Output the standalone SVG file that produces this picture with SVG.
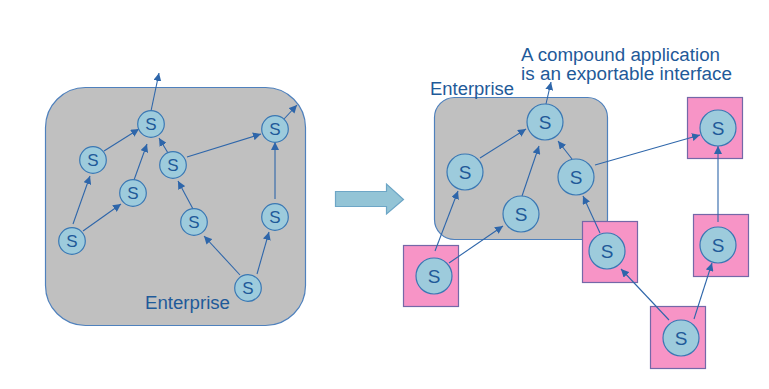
<svg xmlns="http://www.w3.org/2000/svg" width="769" height="389" viewBox="0 0 769 389">
<defs>
<style>
.ent{fill:#c0c0c0;stroke:#4f81bd;stroke-width:1.2}
.sc{fill:#9dcbdc;stroke:#3a78b4;stroke-width:1.2}
.pk{fill:#f794c6;stroke:#7468a8;stroke-width:1.2}
.st{font-family:"Liberation Sans",Arial,sans-serif;fill:#1f5a99;text-anchor:middle}
.s1{font-size:17px}
.s2{font-size:19px}
.lbl{font-family:"Liberation Sans",Arial,sans-serif;fill:#1f5a99;font-size:18px}
.cn line{stroke:#2e66aa;stroke-width:1.1;marker-end:url(#ah)}
</style>
<marker id="ah" markerUnits="userSpaceOnUse" markerWidth="9" markerHeight="8" refX="8" refY="4" orient="auto">
<path d="M0,0 L8,4 L0,8 Z" fill="#2e66aa"/>
</marker>
</defs>

<g id="left-enterprise">
<rect class="ent" x="45.5" y="87.5" width="260" height="238" rx="40"/>
<text class="lbl" x="145" y="309" textLength="85" lengthAdjust="spacingAndGlyphs">Enterprise</text>
</g>

<g id="right-enterprise">
<rect class="ent" x="434.5" y="97.5" width="173" height="142" rx="20"/>
<text class="lbl" x="430" y="95" textLength="84" lengthAdjust="spacingAndGlyphs">Enterprise</text>
</g>

<g id="caption">
<text class="lbl" x="521" y="61" textLength="199" lengthAdjust="spacingAndGlyphs">A compound application</text>
<text class="lbl" x="521" y="80" textLength="211" lengthAdjust="spacingAndGlyphs">is an exportable interface</text>
</g>

<g id="big-arrow">
<path d="M335.5,191.5 L386.5,191.5 L386.5,184 L403.5,199.5 L386.5,214 L386.5,206.5 L335.5,206.5 Z" fill="#93c4d6" stroke="#6da6c6" stroke-width="1.2"/>
</g>

<g id="pink-boxes">
<rect id="pk1" class="pk" x="403.5" y="245.5" width="55" height="61"/>
<rect id="pk2" class="pk" x="582.5" y="221.5" width="55" height="61"/>
<rect id="pk3" class="pk" x="687.5" y="97.5" width="55" height="61"/>
<rect id="pk4" class="pk" x="693.5" y="214.5" width="55" height="62"/>
<rect id="pk5" class="pk" x="650.5" y="306.5" width="55" height="62"/>
</g>

<g class="cn" id="connectors">
<line x1="151" y1="111" x2="159" y2="73"/>
<line x1="284" y1="119" x2="297" y2="105"/>
<line x1="104" y1="151" x2="139" y2="129"/>
<line x1="134" y1="180" x2="147" y2="144"/>
<line x1="73" y1="224" x2="90" y2="176"/>
<line x1="83" y1="231" x2="121" y2="204"/>
<line x1="168" y1="153" x2="159" y2="138"/>
<line x1="187" y1="157" x2="261" y2="134"/>
<line x1="193" y1="209" x2="178" y2="181"/>
<line x1="240" y1="275" x2="204" y2="236"/>
<line x1="257" y1="274" x2="269" y2="232"/>
<line x1="275" y1="199" x2="275" y2="142"/>
<line x1="546" y1="104" x2="551" y2="82"/>
<line x1="480" y1="158" x2="526" y2="129"/>
<line x1="522" y1="196" x2="539" y2="146"/>
<line x1="572" y1="159" x2="558" y2="141"/>
<line x1="595" y1="165" x2="700" y2="135"/>
<line x1="435" y1="251" x2="458" y2="191"/>
<line x1="449" y1="263" x2="503" y2="226"/>
<line x1="600" y1="233" x2="583" y2="196"/>
<line x1="669" y1="320" x2="621" y2="269"/>
<line x1="694" y1="319" x2="712" y2="263"/>
<line x1="718" y1="222" x2="718" y2="146"/>
</g>

<g id="left-services">
<g id="L1"><circle class="sc" cx="151" cy="124" r="13.3"/><text class="st s1" x="151" y="130">S</text></g>
<g id="L2"><circle class="sc" cx="93" cy="160" r="13.3"/><text class="st s1" x="93" y="166">S</text></g>
<g id="L3"><circle class="sc" cx="133" cy="193" r="13.3"/><text class="st s1" x="133" y="199">S</text></g>
<g id="L4"><circle class="sc" cx="72" cy="241" r="13.3"/><text class="st s1" x="72" y="247">S</text></g>
<g id="L5"><circle class="sc" cx="173" cy="165" r="13.3"/><text class="st s1" x="173" y="171">S</text></g>
<g id="L6"><circle class="sc" cx="275" cy="129" r="13.3"/><text class="st s1" x="275" y="135">S</text></g>
<g id="L7"><circle class="sc" cx="194" cy="222" r="13.3"/><text class="st s1" x="194" y="228">S</text></g>
<g id="L8"><circle class="sc" cx="275" cy="217" r="13.3"/><text class="st s1" x="275" y="223">S</text></g>
<g id="L9"><circle class="sc" cx="248" cy="288" r="13.3"/><text class="st s1" x="248" y="294">S</text></g>
</g>

<g id="right-services">
<g id="R1"><circle class="sc" cx="545" cy="122" r="18"/><text class="st s2" x="545" y="129">S</text></g>
<g id="R2"><circle class="sc" cx="465" cy="172" r="18"/><text class="st s2" x="465" y="179">S</text></g>
<g id="R3"><circle class="sc" cx="521" cy="214" r="18"/><text class="st s2" x="521" y="221">S</text></g>
<g id="R4"><circle class="sc" cx="576" cy="177" r="18"/><text class="st s2" x="576" y="184">S</text></g>
<g id="R5"><circle class="sc" cx="434" cy="276" r="18"/><text class="st s2" x="434" y="283">S</text></g>
<g id="R6"><circle class="sc" cx="607" cy="251" r="18"/><text class="st s2" x="607" y="258">S</text></g>
<g id="R7"><circle class="sc" cx="718" cy="128" r="18"/><text class="st s2" x="718" y="135">S</text></g>
<g id="R8"><circle class="sc" cx="718" cy="245" r="18"/><text class="st s2" x="718" y="252">S</text></g>
<g id="R9"><circle class="sc" cx="681" cy="338" r="18"/><text class="st s2" x="681" y="345">S</text></g>
</g>
</svg>
